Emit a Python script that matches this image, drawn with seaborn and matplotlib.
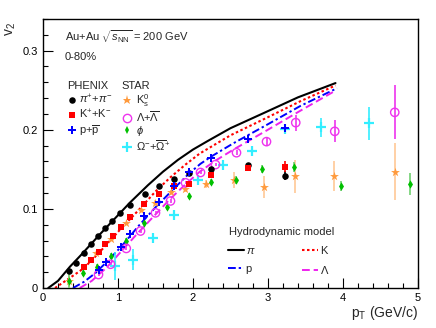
import matplotlib
matplotlib.use("Agg")
import matplotlib.pyplot as plt
from matplotlib.lines import Line2D
from matplotlib.ticker import MultipleLocator, FuncFormatter
import numpy as np
import pandas as pd
import seaborn as sns

# ---- measured points (pT in GeV/c, v2, stat. error) ----
pion_pt = [0.35, 0.44, 0.54, 0.64, 0.73, 0.83, 0.92, 1.02, 1.16, 1.36, 1.55, 1.75, 1.95, 2.24, 2.73, 3.22]
pion_v2 = [0.022, 0.032, 0.044, 0.055, 0.066, 0.076, 0.085, 0.0945, 0.105, 0.119, 0.129, 0.138, 0.145, 0.151, 0.155, 0.142]
pion_err = [0.001] * 13 + [0.002, 0.003, 0.006]

kaon_pt = [0.55, 0.64, 0.74, 0.83, 0.93, 1.04, 1.16, 1.35, 1.55, 1.75, 1.95, 2.24, 2.73, 3.22]
kaon_v2 = [0.026, 0.035, 0.045, 0.055, 0.066, 0.077, 0.0895, 0.106, 0.119, 0.129, 0.131, 0.143, 0.1515, 0.153]
kaon_err = [0.001] * 11 + [0.002, 0.004, 0.007]

proton_pt = [0.74, 0.84, 1.04, 1.16, 1.35, 1.55, 1.75, 1.95, 2.24, 2.73, 3.22]
proton_v2 = [0.023, 0.033, 0.052, 0.068, 0.091, 0.109, 0.129, 0.146, 0.164, 0.188, 0.202]
proton_err = [0.001] * 8 + [0.002, 0.003, 0.005]

k0s_pt = [0.34, 0.71, 0.90, 1.10, 1.30, 1.49, 1.70, 1.89, 2.17, 2.55, 2.94, 3.36, 3.88, 4.69]
k0s_v2 = [0.009, 0.044, 0.062, 0.082, 0.098, 0.108, 0.121, 0.125, 0.132, 0.137, 0.128, 0.141, 0.142, 0.147]
k0s_err = [0.012, 0.002, 0.002, 0.002, 0.002, 0.003, 0.003, 0.004, 0.005, 0.010, 0.014, 0.021, 0.019, 0.036]

lambda_pt = [0.74, 0.90, 1.11, 1.30, 1.50, 1.70, 1.90, 2.10, 2.30, 2.58, 2.98, 3.37, 3.89, 4.69]
lambda_v2 = [0.017, 0.030, 0.050, 0.072, 0.095, 0.110, 0.133, 0.146, 0.156, 0.171, 0.185, 0.209, 0.198, 0.222]
lambda_err = [0.002] * 9 + [0.003, 0.005, 0.010, 0.014, 0.034]

phi_pt = [0.35, 0.53, 0.72, 0.90, 1.10, 1.35, 1.65, 1.95, 2.24, 2.57, 2.92, 3.34, 3.97, 4.89]
phi_v2 = [0.009, 0.019, 0.026, 0.041, 0.060, 0.082, 0.102, 0.116, 0.134, 0.136, 0.150, 0.153, 0.129, 0.131]
phi_err = [0.010, 0.004, 0.004, 0.003, 0.003, 0.003, 0.003, 0.004, 0.004, 0.005, 0.005, 0.006, 0.006, 0.014]

omega_pt = [0.96, 1.20, 1.46, 1.75, 2.06, 2.40, 2.79, 3.22, 3.71, 4.34]
omega_v2 = [0.028, 0.036, 0.063, 0.092, 0.136, 0.155, 0.173, 0.201, 0.203, 0.208]
omega_err = [0.018, 0.013, 0.006, 0.005, 0.005, 0.004, 0.005, 0.004, 0.012, 0.021]

# ---- hydrodynamic model curves ----
hydro_pi_pt = [0.07, 0.2, 0.36, 0.5, 0.76, 1.0, 1.16, 1.4, 1.6, 1.8, 2.0, 2.2, 2.5, 2.94, 3.4, 3.9]
hydro_pi_v2 = [0.0, 0.009, 0.027, 0.041, 0.068, 0.092, 0.108, 0.130, 0.147, 0.162, 0.175, 0.186, 0.202, 0.221, 0.241, 0.259]
hydro_k_pt = [0.16, 0.3, 0.5, 0.63, 0.8, 1.03, 1.27, 1.5, 1.7, 1.9, 2.09, 2.5, 2.98, 3.43, 3.9]
hydro_k_v2 = [0.0, 0.009, 0.022, 0.033, 0.050, 0.074, 0.098, 0.122, 0.140, 0.156, 0.170, 0.193, 0.215, 0.236, 0.256]
hydro_p_pt = [0.4, 0.55, 0.7, 0.85, 1.04, 1.27, 1.5, 1.75, 1.95, 2.1, 2.24, 2.54, 2.98, 3.43, 3.92]
hydro_p_v2 = [0.0, 0.008, 0.019, 0.033, 0.052, 0.078, 0.102, 0.126, 0.145, 0.157, 0.166, 0.183, 0.206, 0.230, 0.2525]
hydro_l_pt = [0.49, 0.65, 0.85, 1.05, 1.27, 1.5, 1.7, 1.9, 2.09, 2.3, 2.54, 2.98, 3.43, 3.9]
hydro_l_v2 = [0.0, 0.009, 0.026, 0.047, 0.070, 0.093, 0.113, 0.131, 0.147, 0.161, 0.175, 0.199, 0.224, 0.2495]

species_labels = [r"$\pi^{+}$+$\pi^{-}$", r"K$^{+}$+K$^{-}$", r"p+$\overline{\rm p}$",
                  r"K$_{\rm s}^{0}$", r"$\Lambda$+$\overline{\Lambda}$", r"$\phi$",
                  r"$\Omega^{-}$+$\overline{\Omega}^{+}$"]
hydro_labels = [r"$\pi$", "K", "p", r"$\Lambda$"]


def to_frame(name, pt, v2, err):
    return pd.DataFrame({"species": name, "pT": pt, "v2": v2, "err": err})


points = pd.concat([
    to_frame("pion", pion_pt, pion_v2, pion_err),
    to_frame("kaon", kaon_pt, kaon_v2, kaon_err),
    to_frame("proton", proton_pt, proton_v2, proton_err),
    to_frame("k0s", k0s_pt, k0s_v2, k0s_err),
    to_frame("lambda", lambda_pt, lambda_v2, lambda_err),
    to_frame("phi", phi_pt, phi_v2, phi_err),
    to_frame("omega", omega_pt, omega_v2, omega_err),
])

hydro = pd.concat([
    pd.DataFrame({"model": "pi", "pT": hydro_pi_pt, "v2": hydro_pi_v2}),
    pd.DataFrame({"model": "k", "pT": hydro_k_pt, "v2": hydro_k_v2}),
    pd.DataFrame({"model": "p", "pT": hydro_p_pt, "v2": hydro_p_v2}),
    pd.DataFrame({"model": "l", "pT": hydro_l_pt, "v2": hydro_l_v2}),
])

# marker style per species
styles = {
    "pion":   dict(marker="o", fc="black", ec="black", s=22, lw=0, errc="black"),
    "kaon":   dict(marker="s", fc="#ff0000", ec="#ff0000", s=19, lw=0, errc="#ff0000"),
    "proton": dict(marker="P", fc="#0000ff", ec="#0000ff", s=34, lw=0, errc="#0000ff"),
    "k0s":    dict(marker="*", fc="#ff9a3c", ec="#ff9a3c", s=45, lw=0, errc="#ffc896"),
    "lambda": dict(marker="o", fc="none", ec="#ee33ee", s=36, lw=1.0, errc="#ee33ee"),
    "phi":    dict(marker="d", fc="#00c000", ec="#00c000", s=18, lw=0, errc="#70d070"),
    "omega":  dict(marker="+", fc="#33eeff", ec="#33eeff", s=48, lw=1.6, errc="#33eeff"),
}
hydro_styles = {
    "pi": dict(color="black", ls="-", lw=1.5),
    "k": dict(color="#ff0000", ls=(0, (1.2, 1.2)), lw=1.5),
    "p": dict(color="#0000ff", ls=(0, (4, 1.5, 1.2, 1.5)), lw=1.4),
    "l": dict(color="#ee22ee", ls=(0, (4, 2)), lw=1.4),
}

sns.set_theme(style="ticks")
plt.rcParams["font.family"] = ["Liberation Sans", "DejaVu Sans"]
plt.rcParams["mathtext.fontset"] = "custom"
plt.rcParams["mathtext.rm"] = "Liberation Sans"
plt.rcParams["mathtext.it"] = "Liberation Sans:italic"

fig = plt.figure(figsize=(4.36, 3.28), dpi=100)
ax = fig.add_axes([43 / 436, 1 - 288 / 328, 375 / 436, 269 / 328])

for model, st in hydro_styles.items():
    sub = hydro[hydro["model"] == model]
    sns.lineplot(data=sub, x="pT", y="v2", color=st["color"], linestyle=st["ls"],
                 linewidth=st["lw"], ax=ax, legend=False, zorder=2)

for name in ["k0s", "phi", "omega", "lambda", "pion", "kaon", "proton"]:
    st = styles[name]
    sub = points[points["species"] == name]
    ax.errorbar(sub["pT"], sub["v2"], yerr=sub["err"], fmt="none",
                ecolor=st["errc"], elinewidth=1.2, capsize=0, zorder=3)
    sns.scatterplot(data=sub, x="pT", y="v2", marker=st["marker"], facecolor=st["fc"],
                    edgecolor=st["ec"], color=st["ec"], s=st["s"], linewidth=st["lw"],
                    ax=ax, legend=False, zorder=4)

ax.set_xlim(0, 5)
ax.set_ylim(0, 0.34)
ax.xaxis.set_major_locator(MultipleLocator(1))
ax.xaxis.set_minor_locator(MultipleLocator(0.2))
ax.yaxis.set_major_locator(MultipleLocator(0.1))
ax.yaxis.set_minor_locator(MultipleLocator(0.02))
ax.yaxis.set_major_formatter(FuncFormatter(lambda v, p: "0" if abs(v) < 1e-9 else f"{v:.1f}"))
ax.xaxis.set_major_formatter(FuncFormatter(lambda v, p: f"{v:.0f}"))
ax.tick_params(which="both", direction="in", top=False, right=False, labelsize=8, colors="black")
ax.tick_params(which="major", length=7, width=0.8)
ax.tick_params(which="minor", length=3.5, width=0.8)
for sp in ax.spines.values():
    sp.set_visible(True)
    sp.set_color("black")
    sp.set_linewidth(1.0)

ax.set_xlabel(r"p$_{\rm T}$ (GeV/c)", fontsize=10, loc="right")
ax.xaxis.set_label_coords(1.0, -0.06)
ax.set_ylabel(r"v$_{2}$", fontsize=10, loc="top")
ax.yaxis.set_label_coords(-0.068, 0.99)

ax.text(0.058, 0.935, r"Au+Au $\sqrt{s_{\rm NN}}$ = 200 GeV", transform=ax.transAxes,
        fontsize=8, va="center", ha="left")
ax.text(0.058, 0.86, "0-80%", transform=ax.transAxes, fontsize=8, va="center", ha="left")
ax.text(0.064, 0.75, "PHENIX", transform=ax.transAxes, fontsize=8, va="center", ha="left")
ax.text(0.21, 0.75, "STAR", transform=ax.transAxes, fontsize=8, va="center", ha="left")
ax.text(0.497, 0.208, "Hydrodynamic model", transform=ax.transAxes, fontsize=8,
        va="center", ha="left")


def marker_handle(name):
    st = styles[name]
    ms = np.sqrt(st["s"])
    return Line2D([], [], linestyle="none", marker=st["marker"], markersize=ms,
                  markerfacecolor=st["fc"], markeredgecolor=st["ec"],
                  markeredgewidth=st["lw"] if st["lw"] > 0 else 0)


phenix_leg = ax.legend(handles=[marker_handle(n) for n in ["pion", "kaon", "proton"]],
                       labels=species_labels[:3], loc="upper left",
                       bbox_to_anchor=(67.5 / 436, 1 - 93 / 328), bbox_transform=fig.transFigure,
                       frameon=False, fontsize=8, handlelength=0.8, handletextpad=0.2,
                       labelspacing=0.15, borderpad=0, borderaxespad=0)
ax.add_artist(phenix_leg)

star_leg = ax.legend(handles=[marker_handle(n) for n in ["k0s", "lambda", "phi", "omega"]],
                     labels=species_labels[3:], loc="upper left",
                     bbox_to_anchor=(122 / 436, 1 - 92 / 328), bbox_transform=fig.transFigure,
                     frameon=False, fontsize=8, handlelength=0.9, handletextpad=0.35,
                     labelspacing=0.02, borderpad=0, borderaxespad=0)
ax.add_artist(star_leg)

hydro_handles = [Line2D([], [], color=hydro_styles[m]["color"], linestyle=hydro_styles[m]["ls"],
                        linewidth=hydro_styles[m]["lw"]) for m in ["pi", "p", "k", "l"]]
ax.legend(handles=hydro_handles, labels=[hydro_labels[0], hydro_labels[2], hydro_labels[1], hydro_labels[3]],
          ncol=2, loc="upper left", bbox_to_anchor=(228 / 436, 1 - 246 / 328),
          bbox_transform=fig.transFigure, frameon=False, fontsize=8, handlelength=1.45,
          handletextpad=0.15, labelspacing=0.7, columnspacing=4.2, borderpad=0, borderaxespad=0)

fig.savefig("out.png", dpi=100)
